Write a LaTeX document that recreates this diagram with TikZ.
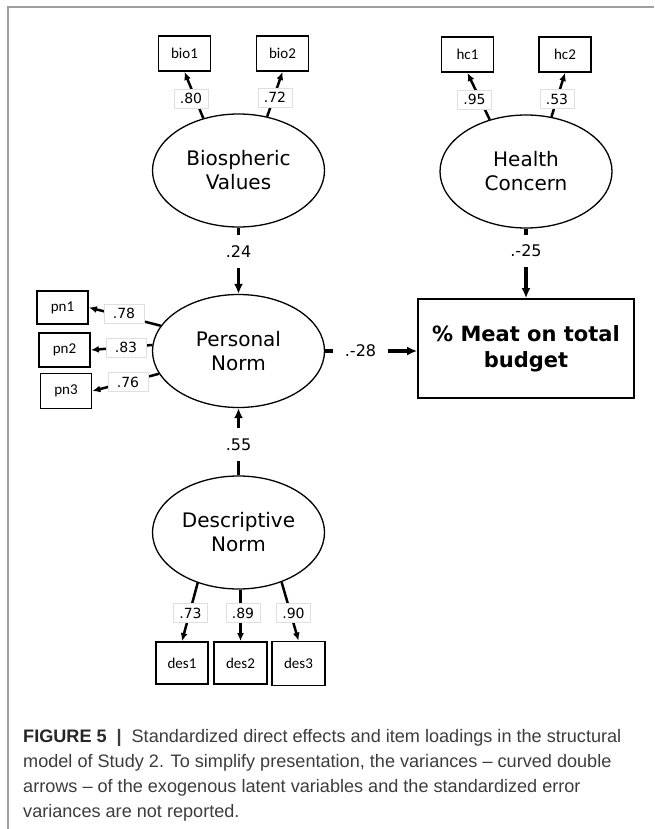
\documentclass[tikz,border=0pt]{standalone}
\usepackage{fontspec}
\setmainfont{DejaVu Sans}
\newfontfamily\boxfont{Carlito}
\newfontfamily\capfont[Ligatures=TeX]{Liberation Sans}
\usetikzlibrary{shapes.geometric,arrows.meta}
\definecolor{capgray}{HTML}{3C3C3C}
\begin{document}
\begin{tikzpicture}[x=1pt,y=-1pt,
  latent/.style={draw, ellipse, line width=1.3pt, minimum width=172pt, minimum height=113pt, inner sep=0pt, align=center, font=\fontsize{20}{24}\selectfont},
  obs/.style={draw, line width=1.8pt, minimum width=52pt, minimum height=35pt, inner sep=0pt, font=\boxfont\fontsize{15}{18}\selectfont},
  load/.style={draw=gray!25, line width=0.8pt, fill=white, minimum width=34pt, minimum height=19pt, inner sep=0pt, font=\fontsize{14}{16}\selectfont},
  pathlab/.style={inner sep=0pt, font=\fontsize{16}{18}\selectfont},
  ldarrow/.style={line width=2.5pt, -{Latex[length=8pt,width=7pt]}},
  patharrow/.style={line width=3.2pt, -{Latex[length=10pt,width=9pt]}},
  pathline/.style={line width=3.2pt},
  capline/.style={anchor=base west, inner sep=0pt, text=capgray, font=\capfont\fontsize{18.1}{25}\selectfont}
]
\useasboundingbox (0,0) rectangle (654,829);
% frame
\draw[gray!75, line width=1.3pt] (8,829) -- (8,7) -- (654,7);

% latent variables
\node[latent] (bio) at (238.5,170.5) {Biospheric\\Values};
\node[latent] (hc)  at (526,171.5) {Health\\Concern};
\node[latent] (pn)  at (238.5,351) {Personal\\Norm};
\node[latent] (dn)  at (238.5,532.5) {Descriptive\\Norm};

% outcome
\node[draw, line width=1.8pt, minimum width=216pt, minimum height=99pt, inner sep=0pt, align=center,
      font=\bfseries\fontsize{21}{26}\selectfont] (meat) at (526,348.5) {\% Meat on total\\budget};

% indicators
\node[obs] (bio1) at (184.5,53.5) {bio1};
\node[obs] (bio2) at (282.5,53.5) {bio2};
\node[obs] (hc1)  at (467.5,54.5) {hc1};
\node[obs] (hc2)  at (565,54.5) {hc2};
\node[obs, minimum width=51pt, minimum height=33pt] (pn1) at (62.5,307.5) {pn1};
\node[obs, minimum width=51pt, minimum height=34pt] (pn2) at (64.5,350) {pn2};
\node[obs, minimum width=51pt, minimum height=35pt] (pn3) at (66,391) {pn3};
\node[obs, minimum height=42pt] (des1) at (182,663) {des1};
\node[obs, minimum width=53pt, minimum height=42pt] (des2) at (240.5,663) {des2};
\node[obs, minimum width=53pt, minimum height=44pt] (des3) at (298.5,663.5) {des3};

% loading arrows
\draw[ldarrow] (bio.124) -- (bio1.south);
\draw[ldarrow] (bio.62) -- (bio2.south);
\draw[ldarrow] (hc.125) -- (hc1.south);
\draw[ldarrow] (hc.65) -- (hc2.south);
\draw[ldarrow] (pn.162) -- (pn1.east);
\draw[ldarrow] (pn.176) -- (pn2.east);
\draw[ldarrow] (pn.196) -- (pn3.east);
\draw[ldarrow] (dn.231) -- (des1.north);
\draw[ldarrow] (dn.south -| des2.north) -- (des2.north);
\draw[ldarrow] (dn.311) -- (des3.north);

% loading labels
\node[load] (l80) at (191,98.5) {.80};
\node[load] (l72) at (275,97.5) {.72};
\node[load] (l95) at (474.5,99.5) {.95};
\node[load] (l53) at (557,99) {.53};
\node[load, minimum width=40pt] (l78) at (124,313.5) {.78};
\node[load, minimum width=40pt] (l83) at (126,347.5) {.83};
\node[load, minimum width=40pt] (l76) at (128,382) {.76};
\node[load] (l73) at (190.5,613) {.73};
\node[load] (l89) at (243,613) {.89};
\node[load] (l90) at (293.5,613) {.90};

% structural paths
\node[pathlab, minimum height=33pt] (l24) at (238.5,251.5) {.24};
\draw[pathline] (bio.south) -- (l24.north);
\draw[patharrow] (l24.south) -- (pn.north);

\node[pathlab, minimum height=32pt] (l25) at (526,251) {.-25};
\draw[pathline] (hc.south) -- (l25.north);
\draw[patharrow] (l25.south) -- (meat.north);

\node[pathlab, minimum height=33pt] (l55) at (238.5,444.5) {.55};
\draw[pathline] (dn.north) -- (l55.south);
\draw[patharrow] (l55.north) -- (pn.south);

\node[pathlab, minimum width=55pt] (l28) at (360.5,351) {.-28};
\draw[pathline] (pn.east) -- (l28.west);
\draw[patharrow] (l28.east) -- (meat.west |- l28.east);

% caption
\node[capline] (cap1) at (23,742) {{\bfseries\color{black!85}FIGURE 5}\hspace{0.55em}{\bfseries|}\hspace{0.55em}Standardized direct effects and item loadings in the structural};
\node[capline] (cap2) at (23,767) {model of Study 2. To simplify presentation, the variances \textendash{} curved double};
\node[capline] (cap3) at (23,792) {arrows \textendash{} of the exogenous latent variables and the standardized error};
\node[capline] (cap4) at (23,817) {variances are not reported.};
\end{tikzpicture}
\end{document}
